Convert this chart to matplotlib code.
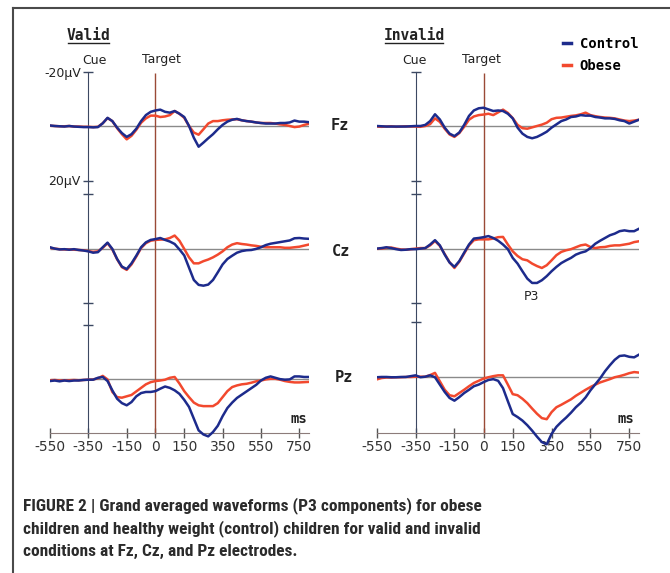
import numpy as np
import matplotlib
matplotlib.use("Agg")
import matplotlib.pyplot as plt
from matplotlib.lines import Line2D

# time axis (ms) and electrode rows
times = np.arange(-550, 801, 25)
electrodes = ["Fz", "Cz", "Pz"]
xtick_vals = [-550, -350, -150, 0, 150, 350, 550, 750]

# grand averaged waveforms in microvolts (negative drawn upward)
valid_fz_control = [-0.2, 0.0, 0.1, 0.2, 0.0, 0.2, 0.3, 0.4, 0.4, 0.5, 0.4, -1.0, -3.0, -1.8, 0.6, 2.6, 4.0, 3.0, 1.0,
                    -1.8, -4.0, -5.2, -5.7, -6.0, -5.2, -4.9, -5.5, -4.5, -3.3, 0.0, 4.3, 7.6, 6.1, 4.5, 3.0, 1.2,
                    -0.4, -1.6, -2.3, -2.6, -2.1, -1.8, -1.6, -1.3, -1.1, -0.9, -0.9, -0.9, -1.1, -1.1, -1.3, -2.0,
                    -1.6, -1.6, -1.4]
valid_fz_obese = [-0.1, 0.0, 0.1, 0.1, 0.0, 0.2, 0.2, 0.3, 0.3, 0.4, 0.3, -1.0, -2.9, -1.8, 0.8, 3.0, 4.9, 3.6, 1.4,
                  -1.2, -2.8, -3.8, -3.8, -3.3, -3.5, -4.0, -5.5, -4.5, -3.0, 0.0, 2.4, 3.2, 1.2, -0.9, -1.8, -1.8,
                  -2.1, -2.3, -2.4, -2.5, -2.1, -1.8, -1.6, -1.3, -1.1, -1.1, -1.1, -0.9, -0.6, -0.4, 0.0, 0.4, 0.2,
                  -0.4, -0.8]
valid_cz_control = [-0.5, 0.0, 0.3, 0.2, 0.4, 0.2, 0.5, 0.7, 1.0, 1.5, 1.3, -0.5, -2.2, 0.1, 3.8, 6.6, 7.5, 5.4, 2.6,
                    -0.5, -2.3, -3.2, -3.5, -3.9, -3.2, -2.6, -1.7, 0.3, 2.5, 7.0, 11.5, 13.3, 13.6, 13.2, 11.5, 8.7,
                    5.8, 3.8, 2.6, 1.5, 0.9, 0.6, 0.5, 0.1, -0.5, -1.3, -1.8, -2.1, -2.4, -2.7, -3.0, -3.8, -3.9,
                    -3.7, -3.6]
valid_cz_obese = [-0.3, 0.0, 0.2, 0.3, 0.3, 0.4, 0.5, 0.6, 0.9, 1.2, 1.0, -0.3, -2.0, 0.3, 3.9, 6.8, 7.8, 5.8, 2.9,
                  -0.2, -2.0, -2.9, -3.2, -3.3, -3.4, -3.9, -4.8, -2.9, 0.1, 3.2, 5.4, 5.4, 4.6, 4.0, 3.2, 2.2, 1.0,
                  -0.5, -1.5, -2.0, -1.7, -1.5, -1.2, -1.0, -0.7, -0.5, -0.5, -0.5, -0.5, -0.3, -0.3, -0.5, -0.7,
                  -1.1, -1.5]
valid_pz_control = [0.6, 0.4, 0.7, 0.4, 0.6, 0.4, 0.4, 0.2, 0.1, 0.1, -0.6, -0.9, 0.6, 4.0, 7.1, 8.7, 9.5, 8.3, 6.2,
                    5.0, 4.6, 4.6, 4.3, 3.4, 2.6, 3.1, 4.0, 5.3, 7.5, 10.1, 14.4, 18.7, 20.2, 20.9, 19.3, 17.0, 13.5,
                    10.5, 8.5, 6.8, 5.6, 4.4, 3.2, 2.0, 0.4, -0.6, -1.1, -0.6, -0.1, 0.1, 0.0, -1.1, -1.1, -0.9, -0.9]
valid_pz_obese = [0.3, 0.2, 0.4, 0.3, 0.3, 0.2, 0.3, 0.2, 0.1, 0.0, -0.4, -1.3, 0.0, 4.6, 6.5, 6.7, 6.2, 5.7, 4.4,
                  3.1, 1.8, 1.0, 0.6, 0.4, 0.1, -0.6, -0.9, 1.5, 4.3, 6.5, 8.5, 9.5, 9.8, 9.8, 9.8, 8.7, 6.5, 4.3,
                  2.8, 2.2, 1.8, 1.6, 1.2, 0.7, 0.4, 0.0, -0.2, -0.2, 0.1, 0.6, 0.9, 1.1, 1.1, 1.0, 0.9]

invalid_fz_control = [0.0, 0.1, 0.2, 0.2, 0.2, 0.2, 0.2, 0.1, 0.0, 0.0, -0.4, -1.8, -4.3, -2.4, 0.6, 2.8, 3.7, 2.4,
                      -0.4, -3.7, -5.7, -6.5, -6.7, -6.1, -5.5, -5.7, -5.5, -4.5, -2.8, 0.6, 2.8, 4.0, 4.5, 4.0, 3.1,
                      2.1, 0.6, -0.6, -1.8, -2.4, -3.3, -3.5, -4.0, -3.8, -3.8, -3.3, -3.1, -2.8, -2.8, -2.6, -2.1,
                      -1.8, -0.9, -1.6, -2.3]
invalid_fz_obese = [0.2, 0.3, 0.2, 0.1, 0.3, 0.2, 0.1, 0.2, 0.2, 0.3, 0.0, -0.7, -2.8, -1.5, 1.0, 3.1, 4.0, 2.6, 0.3,
                    -2.3, -3.5, -4.0, -4.2, -4.5, -4.0, -5.0, -6.0, -4.8, -2.9, -0.4, 0.8, 1.0, 0.5, 0.0, -0.5, -1.2,
                    -2.5, -3.0, -3.1, -3.4, -3.7, -3.9, -4.3, -4.9, -4.0, -3.6, -3.3, -3.1, -3.0, -2.8, -2.4, -2.0,
                    -1.8, -2.0, -2.3]
invalid_cz_control = [0.0, -0.2, -0.5, -0.2, 0.2, 0.5, 0.4, 0.2, 0.2, 0.0, -0.2, -1.5, -3.1, -1.2, 2.2, 5.1, 6.7, 4.6,
                      1.5, -1.5, -3.7, -3.9, -4.2, -4.6, -3.9, -2.9, -1.5, 0.2, 3.4, 5.5, 8.3, 11.0, 12.6, 12.6, 11.6,
                      10.1, 8.3, 6.7, 5.3, 4.3, 3.4, 2.2, 1.5, 1.0, -0.2, -1.8, -2.9, -3.9, -4.9, -5.5, -6.4, -6.7,
                      -6.4, -6.4, -7.3]
invalid_cz_obese = [0.1, 0.0, -0.3, -0.4, 0.0, 0.3, 0.4, 0.2, 0.0, -0.2, -0.2, -1.2, -2.8, -1.0, 2.0, 5.0, 7.1, 4.8,
                    1.8, -1.2, -3.1, -3.4, -3.4, -3.4, -3.7, -4.2, -4.3, -1.5, 1.0, 2.7, 3.9, 4.3, 5.5, 6.4, 7.1, 6.1,
                    4.3, 2.4, 1.2, 0.6, 0.2, -0.5, -1.2, -1.5, -0.6, -0.2, -0.5, -0.6, -1.0, -1.2, -1.2, -1.5, -1.8,
                    -2.4, -2.7]
invalid_pz_control = [0.2, 0.1, 0.1, 0.2, 0.2, 0.1, 0.1, -0.2, -0.5, 0.2, 0.0, -0.5, 0.2, 2.9, 5.6, 7.8, 8.8, 7.5,
                      6.0, 4.8, 3.5, 2.9, 2.0, 1.2, 0.9, 1.5, 4.2, 9.0, 13.7, 14.8, 16.1, 17.8, 19.8, 22.0, 24.0, 24.8,
                      21.0, 18.4, 16.6, 15.0, 13.2, 11.2, 9.6, 7.6, 5.0, 2.8, 0.6, -2.0, -4.2, -6.2, -7.6, -7.8, -7.3,
                      -7.1, -8.1]
invalid_pz_obese = [1.0, 0.5, 0.3, 0.3, 0.2, 0.2, 0.1, 0.1, 0.0, 0.0, 0.0, -0.6, -1.4, 1.7, 4.8, 6.8, 7.2, 6.0, 4.8,
                    3.5, 2.3, 1.5, 0.7, 0.2, -0.2, -0.5, -0.5, 2.9, 6.4, 6.8, 8.1, 9.7, 11.7, 13.6, 15.2, 15.6, 13.0,
                    11.2, 10.3, 9.3, 8.3, 7.0, 5.9, 4.8, 3.8, 2.9, 2.1, 1.5, 0.9, 0.2, -0.2, -0.7, -1.3, -1.7, -1.5]

W, H = 670, 573
CONTROL = "#1d2b8c"
OBESE = "#f2492e"
CUE = "#3c4862"
TARGET = "#9a4a36"
BASE = "#8a8a8a"
AXIS = "#8c7c7a"
INK = "#222222"
MONO = "DejaVu Sans Mono"
NARROW = ["Roboto Condensed", "PT Sans Narrow", "Archivo Narrow", "Liberation Sans"]

UV_PX = 2.725          # pixels per microvolt
FZ_PX = 126            # pixel row of the Fz baseline
TOP_PX, BOT_PX = 60, 450


def fx(px):
    return px / W


def fy(py):
    return 1 - py / H


fig = plt.figure(figsize=(W / 100, H / 100), dpi=100)
fig.patch.set_facecolor("white")


def panel(x_left, x_750, offsets, control, obese, left_labels):
    px_per_ms = (x_750 - x_left) / 1300
    x_right = x_left + 1350 * px_per_ms
    ax = fig.add_axes([fx(x_left), fy(BOT_PX), (x_right - x_left) / W, (BOT_PX - TOP_PX) / H])
    ax.set_facecolor("none")
    ax.set_xlim(-550, 800)
    ax.set_ylim((BOT_PX - FZ_PX) / UV_PX, (TOP_PX - FZ_PX) / UV_PX)

    for s in ["top", "right"]:
        ax.spines[s].set_visible(False)
    ax.spines["left"].set_position(("data", -350))
    ax.spines["left"].set_bounds(-20, 113)
    ax.spines["left"].set_color(CUE)
    ax.spines["bottom"].set_position(("data", 112.5))
    ax.spines["bottom"].set_bounds(-550, 800)
    ax.spines["bottom"].set_color(AXIS)

    yt = [o + d for o in offsets for d in (-20, 20) if o + d < 110]
    ax.set_yticks(yt)
    if left_labels:
        ax.set_yticklabels(["-20µV", "20µV"] + [""] * (len(yt) - 2))
    else:
        ax.set_yticklabels([""] * len(yt))
    ax.set_xticks(xtick_vals)
    ax.set_xticklabels([str(v) for v in xtick_vals])
    ax.tick_params(axis="y", direction="inout", length=7, width=1, color=CUE, pad=2,
                   labelsize=9, labelcolor=INK)
    ax.tick_params(axis="x", direction="inout", length=7, width=1, color="#555555", pad=2,
                   labelsize=10, labelcolor="#333333")

    ax.vlines(0, -19.3, 113, color=TARGET, lw=1, zorder=2)
    ax.hlines(offsets, -550, 800, color=BASE, lw=1, zorder=1)
    for off, c, o in zip(offsets, control, obese):
        ax.plot(times, off + np.array(o), color=OBESE, lw=1.8, zorder=3)
        ax.plot(times, off + np.array(c), color=CONTROL, lw=1.8, zorder=4)
    return ax


panel(50, 299.3, [0, 45, 93], [valid_fz_control, valid_cz_control, valid_pz_control],
      [valid_fz_obese, valid_cz_obese, valid_pz_obese], True)
panel(376.7, 629.3, [0, 45, 92], [invalid_fz_control, invalid_cz_control, invalid_pz_control],
      [invalid_fz_obese, invalid_cz_obese, invalid_pz_obese], False)

# panel titles (underlined)
for label, cx, x0, x1 in [("Valid", 88.8, 68, 109), ("Invalid", 414, 385, 443)]:
    fig.text(fx(cx), fy(36), label, ha="center", va="center", family=MONO, weight="bold",
             fontsize=10.5, color=INK)
    fig.add_artist(Line2D([fx(x0), fx(x1)], [fy(43), fy(43)], color=INK, lw=1))

# event labels
for label, cx in [("Cue", 94), ("Target", 161), ("Cue", 414.7), ("Target", 481.7)]:
    fig.text(fx(cx), fy(60), label, ha="center", va="center", fontsize=9, color=INK)

# electrode labels
for label, cx, cy in zip(electrodes, [339.5, 341, 344], [126, 251, 377]):
    fig.text(fx(cx), fy(cy), label, ha="center", va="center", family=MONO, weight="bold",
             fontsize=11, color=INK)

for cx in [299, 626]:
    fig.text(fx(cx), fy(419), "ms", ha="center", va="center", family=MONO, weight="bold",
             fontsize=10, color=INK)
fig.text(fx(531), fy(296), "P3", ha="center", va="center", fontsize=9, color=INK)

handles = [Line2D([], [], color=CONTROL, lw=2.5), Line2D([], [], color=OBESE, lw=2.5)]
fig.legend(handles, ["Control", "Obese"], loc="upper left", bbox_to_anchor=(fx(556), fy(30)),
           frameon=False, handlelength=0.6, handletextpad=0.6, labelspacing=0.6, borderpad=0,
           prop=dict(family=MONO, weight="bold", size=10))

# frame lines
fig.add_artist(Line2D([fx(13), 1], [fy(8), fy(8)], color="#4a4a4a", lw=1.5))
fig.add_artist(Line2D([fx(13), fx(13)], [fy(8), 0], color="#4a4a4a", lw=1.5))

caption = ["FIGURE 2 | Grand averaged waveforms (P3 components) for obese",
           "children and healthy weight (control) children for valid and invalid",
           "conditions at Fz, Cz, and Pz electrodes."]
cap_texts = [fig.text(fx(23), fy(510 + 23 * i), line, ha="left", va="baseline", fontsize=12.5,
                      weight="bold", family=NARROW, color="#2b2b2b")
             for i, line in enumerate(caption)]

# fit the caption so its first line spans the same width as in the figure
fig.canvas.draw()
renderer = fig.canvas.get_renderer()
width = cap_texts[0].get_window_extent(renderer).width
scale = 460.0 / width
for t in cap_texts:
    t.set_fontsize(12.5 * scale)

fig.savefig("out.png", dpi=100)
